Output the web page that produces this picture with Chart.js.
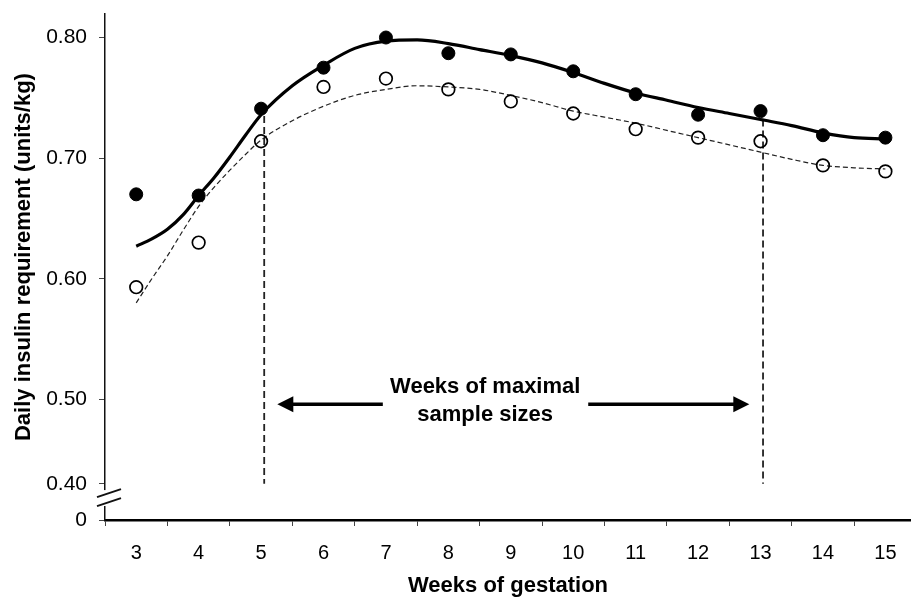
<!DOCTYPE html>
<html>
<head>
<meta charset="utf-8">
<script src="https://cdn.jsdelivr.net/npm/chart.js@4/dist/chart.umd.min.js"></script>
<style>
  html, body { margin:0; padding:0; background:#fff; }
  #wrap { width:911px; height:597px; position:relative; }
</style>
</head>
<body>
<div id="wrap"><canvas id="insulin-chart"></canvas></div>
<script>
/* ============================================================
 * Daily insulin requirement by week of gestation
 * ============================================================ */
const weeks = [3, 4, 5, 6, 7, 8, 9, 10, 11, 12, 13, 14, 15];
const filledValues = [0.670, 0.669, 0.741, 0.775, 0.800, 0.787, 0.786, 0.772, 0.753, 0.736, 0.739, 0.719, 0.717];
const openValues = [0.593, 0.630, 0.714, 0.759, 0.766, 0.757, 0.747, 0.737, 0.724, 0.717, 0.714, 0.694, 0.689];

// fitted curves (finer steps where they bend)
const fitWeeks = [3, 3.25, 3.5, 3.75, 4, 4.25, 4.5, 4.75, 5, 5.5, 6, 6.5, 7, 7.5, 8, 8.5, 9, 9.5, 10, 10.5, 11, 11.5, 12, 12.5, 13, 13.5, 14, 14.5, 15];
const fitFilled = [0.627, 0.633, 0.641, 0.653, 0.669, 0.684, 0.701, 0.719, 0.736, 0.760, 0.777, 0.791, 0.797, 0.798, 0.795, 0.790, 0.785, 0.779, 0.771, 0.762, 0.754, 0.748, 0.742, 0.737, 0.732, 0.727, 0.721, 0.717, 0.716];
const fitOpen = [0.580, 0.600, 0.619, 0.640, 0.660, 0.676, 0.690, 0.703, 0.715, 0.731, 0.743, 0.752, 0.757, 0.760, 0.759, 0.757, 0.752, 0.746, 0.739, 0.734, 0.729, 0.723, 0.717, 0.711, 0.705, 0.699, 0.694, 0.692, 0.691];

// y axis is broken: "0" sits under the 0.40 label
const yTickValues = [0.40, 0.43, 0.50, 0.60, 0.70, 0.80];
const yTickLabels = ['0', '0.40', '0.50', '0.60', '0.70', '0.80'];
const yTitle = 'Daily insulin requirement (units/kg)';
const yTitleLevel = 0.618;

// window of maximal sample sizes
const spanWeeks = [5.05, 13.04];
const spanTops = [0.735, 0.732];
const spanBottom = 0.43;
const arrowSpans = [[6.95, 5.26], [10.24, 12.82]];
const arrowLevel = 0.496;
const noteLines = ['Weeks of maximal', 'sample sizes'];
const noteWeek = 8.59;
const noteLevels = [0.510, 0.487];
const breakRange = [0.4116, 0.4248];

const FONT = '"Liberation Sans", Arial, Helvetica, sans-serif';
const toXY = (xs, ys) => xs.map((x, i) => ({ x, y: ys[i] }));

const overlay = {
  id: 'overlay',
  afterDatasetsDraw(chart) {
    const { ctx, scales: { x, y } } = chart;
    ctx.save();
    // axis break
    const ax = x.left;
    const yTop = y.getPixelForValue(breakRange[1]);
    const yBot = y.getPixelForValue(breakRange[0]);
    ctx.fillStyle = '#fff';
    ctx.fillRect(ax - 3, yTop, 6, yBot - yTop);
    ctx.strokeStyle = '#111'; ctx.lineWidth = 2;
    [yTop + 3, yTop + 12].forEach((c) => {
      ctx.beginPath(); ctx.moveTo(ax - 8, c + 4); ctx.lineTo(ax + 16, c - 4); ctx.stroke();
    });
    // arrows
    ctx.fillStyle = '#000'; ctx.strokeStyle = '#000'; ctx.lineWidth = 3.5;
    const py = y.getPixelForValue(arrowLevel);
    arrowSpans.forEach(([from, to]) => {
      const x0 = x.getPixelForValue(from), x1 = x.getPixelForValue(to);
      const dir = Math.sign(x1 - x0);
      ctx.beginPath(); ctx.moveTo(x0, py); ctx.lineTo(x1 - dir * 12, py); ctx.stroke();
      ctx.beginPath(); ctx.moveTo(x1, py); ctx.lineTo(x1 - dir * 16, py - 8); ctx.lineTo(x1 - dir * 16, py + 8); ctx.closePath(); ctx.fill();
    });
    // note
    ctx.font = `bold 22px ${FONT}`;
    ctx.textAlign = 'center'; ctx.textBaseline = 'middle';
    noteLines.forEach((t, i) => ctx.fillText(t, x.getPixelForValue(noteWeek), y.getPixelForValue(noteLevels[i])));
    // y title
    ctx.translate(24, y.getPixelForValue(yTitleLevel));
    ctx.rotate(-Math.PI / 2);
    ctx.fillText(yTitle, 0, 0);
    ctx.restore();
  },
};

new Chart(document.getElementById('insulin-chart'), {
  type: 'scatter',
  data: {
    datasets: [
      { label:'filled', data:toXY(weeks, filledValues), order:0, showLine:false,
        pointRadius:6.5, pointHoverRadius:6.5, pointBackgroundColor:'#000', pointBorderColor:'#000', pointBorderWidth:1 },
      { label:'open', data:toXY(weeks, openValues), order:0, showLine:false,
        pointRadius:6.3, pointHoverRadius:6.3, pointBackgroundColor:'rgba(255,255,255,0)', pointBorderColor:'#000', pointBorderWidth:1.7 },
      { label:'fit filled', data:toXY(fitWeeks, fitFilled), order:1, showLine:true, pointRadius:0,
        borderColor:'#000', borderWidth:3.2, cubicInterpolationMode:'monotone' },
      { label:'fit open', data:toXY(fitWeeks, fitOpen), order:1, showLine:true, pointRadius:0,
        borderColor:'#222', borderWidth:1.2, borderDash:[5, 3], cubicInterpolationMode:'monotone' },
      ...spanWeeks.map((w, i) => ({ label:'span', data:[{ x:w, y:spanTops[i] }, { x:w, y:spanBottom }], order:1,
        showLine:true, pointRadius:0, borderColor:'#222', borderWidth:1.8, borderDash:[7, 4] })),
    ],
  },
  options: {
    responsive:true, maintainAspectRatio:false, animation:false,
    layout:{ autoPadding:false, padding:{ top:14, right:0, left:0, bottom:0 } },
    plugins:{ legend:{ display:false }, tooltip:{ enabled:false } },
    scales:{
      x:{
        type:'linear', min:2.5, max:15.41,
        afterBuildTicks:(s) => { s.ticks = weeks.map((v) => ({ value:v })); },
        afterFit:(s) => { s.height = 77; s.paddingLeft = 0; s.paddingRight = 0; },
        grid:{ drawOnChartArea:false, offset:true, tickLength:6, color:'#444', lineWidth:1 },
        border:{ color:'#000', width:2.5 },
        ticks:{ color:'#000', padding:15, font:{ family:FONT, size:20 }, callback:(v) => String(v) },
        title:{ display:true, text:'Weeks of gestation', color:'#000', padding:{ top:0, bottom:0 },
          font:{ family:FONT, size:22, weight:'bold', lineHeight:1 } },
      },
      y:{
        type:'linear', min:0.40, max:0.8195,
        afterBuildTicks:(s) => { s.ticks = yTickValues.map((v) => ({ value:v })); },
        afterFit:(s) => { s.width = 105; s.paddingTop = 0; s.paddingBottom = 0; },
        grid:{ drawOnChartArea:false, tickLength:6, color:'#444', lineWidth:1 },
        border:{ color:'#111', width:1.5 },
        ticks:{ color:'#000', padding:12, font:{ family:FONT, size:21 }, callback:(v, i) => yTickLabels[i] },
      },
    },
  },
  plugins:[overlay],
});
</script>
</body>
</html>
